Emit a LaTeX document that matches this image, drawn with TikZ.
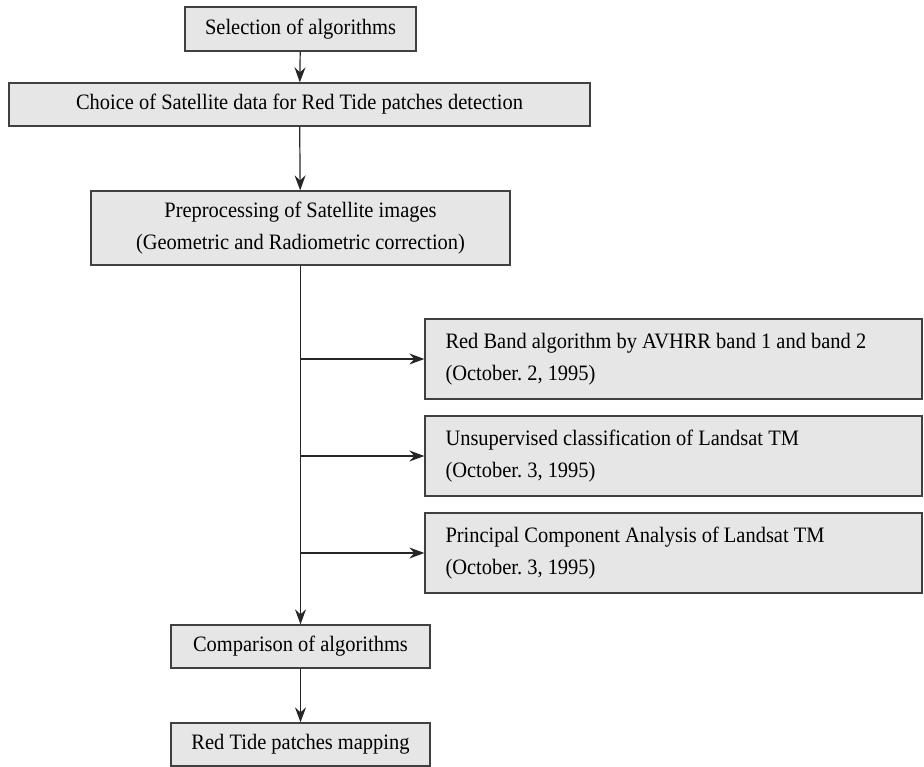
\documentclass[tikz,border=0pt]{standalone}
\usepackage{fontspec}
\setmainfont{Liberation Serif}[FakeStretch=0.93]
\usetikzlibrary{arrows.meta}
\definecolor{boxfill}{HTML}{E6E6E6}
\definecolor{boxline}{HTML}{404040}
\tikzset{
  box/.style={draw=boxline, line width=1.3pt, fill=boxfill, inner sep=0pt,
    font=\fontsize{22}{32.5}\selectfont\frenchspacing, align=center},
  rbox/.style={box, align=flush left, text width=456pt, minimum width=497pt, minimum height=80pt},
  arr/.style={draw=black!85, line width=1.2pt, -{Stealth[length=15pt,width=11pt,inset=5pt]}}
}
\begin{document}
\begin{tikzpicture}[x=1pt,y=-1pt]
\useasboundingbox (0,0) rectangle (924,766);
\node[box, minimum width=231pt, minimum height=44pt] (b1) at (300.5,29) {Selection of algorithms};
\node[box, minimum width=581pt, minimum height=43pt] (b2) at (299.5,104.5) {Choice of Satellite data for Red Tide patches detection};
\node[box, minimum width=419pt, minimum height=74pt] (b3) at (300.5,228) {Preprocessing of Satellite images\\(Geometric and Radiometric correction)};
\node[rbox] (ba) at (673.5,359) {Red Band algorithm by AVHRR band 1 and band 2\\(October. 2, 1995)};
\node[rbox] (bb) at (673.5,456) {Unsupervised classification of Landsat TM\\(October. 3, 1995)};
\node[rbox] (bc) at (673.5,553) {Principal Component Analysis of Landsat TM\\(October. 3, 1995)};
\node[box, minimum width=259pt, minimum height=43pt] (b4) at (300.5,646.5) {Comparison of algorithms};
\node[box, minimum width=259pt, minimum height=43pt] (b5) at (300.5,744.5) {Red Tide patches mapping};
\draw[arr] (b1) -- (b2);
\draw[arr] (b2) -- (b3);
\draw[arr] (b3.south) -- (b4.north);
\draw[arr] (b3.south |- ba.west) -- (ba.west);
\draw[arr] (b3.south |- bb.west) -- (bb.west);
\draw[arr] (b3.south |- bc.west) -- (bc.west);
\draw[arr] (b4) -- (b5);
\end{tikzpicture}
\end{document}
